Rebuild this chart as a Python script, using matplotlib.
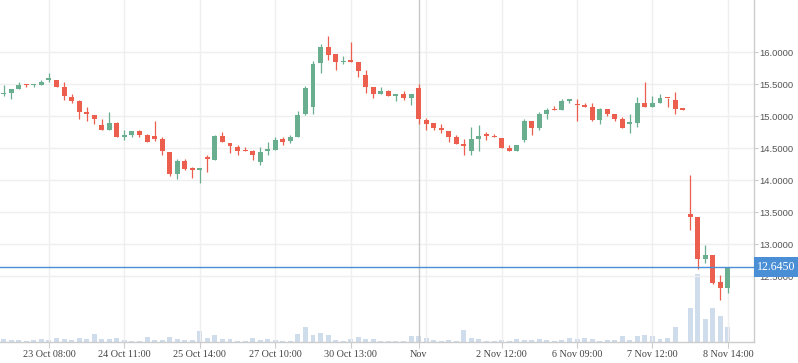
import matplotlib
matplotlib.use("Agg")
import matplotlib.pyplot as plt
from matplotlib.patches import Rectangle
from matplotlib.transforms import blended_transform_factory
import numpy as np

opens = [15.34, 15.37, 15.43, 15.49, 15.48, 15.49, 15.57, 15.57, 15.45, 15.30,
         15.24, 15.07, 15.02, 14.86, 14.79, 14.90, 14.67, 14.71, 14.77, 14.70,
         14.69, 14.65, 14.44, 14.09, 14.30, 14.17, 14.16, 14.35, 14.31, 14.69,
         14.58, 14.52, 14.46, 14.46, 14.28, 14.45, 14.47, 14.64, 14.61, 14.68,
         15.04, 15.14, 15.83, 16.08, 15.97, 15.84, 15.86, 15.85, 15.65, 15.46,
         15.35, 15.40, 15.32, 15.35, 15.29, 15.44, 14.94, 14.89, 14.81, 14.77,
         14.67, 14.57, 14.45, 14.65, 14.71, 14.69, 14.66, 14.51, 14.46, 14.63,
         14.93, 14.82, 15.04, 15.10, 15.10, 15.24, 15.18, 15.18, 15.15, 14.94,
         15.11, 15.04, 14.96, 14.88, 14.89, 15.21, 15.15, 15.20, 15.29, 15.26,
         15.11, 13.47, 13.43, 12.77, 12.83, 12.41, 12.31]
highs = [15.49, 15.43, 15.54, 15.50, 15.51, 15.57, 15.67, 15.57, 15.54, 15.35,
         15.26, 15.15, 15.02, 14.95, 15.07, 14.91, 14.78, 14.77, 14.79, 14.72,
         14.93, 14.67, 14.44, 14.33, 14.33, 14.21, 14.18, 14.39, 14.71, 14.76,
         14.58, 14.55, 14.52, 14.47, 14.52, 14.59, 14.67, 14.67, 14.70, 15.08,
         15.47, 15.86, 16.13, 16.26, 15.97, 15.94, 16.16, 15.85, 15.72, 15.46,
         15.46, 15.41, 15.35, 15.40, 15.35, 15.51, 14.97, 14.89, 14.88, 14.77,
         14.70, 14.65, 14.83, 14.86, 14.76, 14.72, 14.66, 14.55, 14.55, 14.95,
         14.93, 15.06, 15.13, 15.16, 15.27, 15.27, 15.27, 15.21, 15.21, 15.13,
         15.11, 15.04, 14.98, 15.04, 15.30, 15.53, 15.32, 15.35, 15.29, 15.38,
         15.11, 14.08, 13.43, 12.99, 12.83, 12.51, 12.645]
lows = [15.32, 15.27, 15.43, 15.46, 15.46, 15.48, 15.54, 15.45, 15.26, 15.21,
        14.96, 14.93, 14.88, 14.78, 14.79, 14.67, 14.63, 14.68, 14.67, 14.59,
        14.61, 14.40, 14.07, 14.02, 14.16, 14.04, 13.96, 14.12, 14.31, 14.59,
        14.42, 14.40, 14.45, 14.31, 14.23, 14.40, 14.47, 14.55, 14.58, 14.68,
        15.02, 15.04, 15.68, 15.88, 15.72, 15.82, 15.84, 15.61, 15.37, 15.28,
        15.34, 15.31, 15.24, 15.26, 15.17, 14.88, 14.78, 14.78, 14.74, 14.59,
        14.56, 14.40, 14.40, 14.45, 14.62, 14.67, 14.51, 14.46, 14.45, 14.60,
        14.71, 14.79, 14.96, 15.09, 15.10, 15.21, 14.92, 15.15, 14.92, 14.88,
        15.01, 14.92, 14.81, 14.73, 14.83, 15.14, 15.15, 15.20, 15.14, 15.04,
        15.10, 13.22, 12.61, 12.71, 12.38, 12.12, 12.24]
closes = [15.37, 15.43, 15.49, 15.48, 15.51, 15.53, 15.58, 15.46, 15.31, 15.24,
          15.06, 15.03, 14.96, 14.79, 14.90, 14.67, 14.71, 14.77, 14.70, 14.59,
          14.65, 14.45, 14.10, 14.30, 14.18, 14.16, 14.17, 14.33, 14.69, 14.59,
          14.53, 14.46, 14.45, 14.40, 14.44, 14.48, 14.63, 14.60, 14.68, 15.02,
          15.44, 15.82, 16.08, 15.96, 15.84, 15.86, 15.85, 15.70, 15.45, 15.35,
          15.40, 15.31, 15.35, 15.28, 15.35, 14.95, 14.87, 14.81, 14.78, 14.67,
          14.57, 14.53, 14.65, 14.69, 14.69, 14.67, 14.51, 14.46, 14.55, 14.93,
          14.82, 15.04, 15.10, 15.09, 15.24, 15.27, 15.17, 15.15, 14.94, 15.11,
          15.04, 14.96, 14.82, 14.90, 15.21, 15.15, 15.20, 15.29, 15.28, 15.11,
          15.10, 13.43, 12.77, 12.83, 12.39, 12.31, 12.645]
volumes = [2.7, 1.7, 1.7, 0.7, 1.7, 2.7, 1.7, 4, 2.7, 1.7,
           4, 2.7, 8, 2.7, 2.7, 4, 1.7, 0.7, 0.7, 5,
           1.7, 1.7, 5, 2.7, 1.7, 1.7, 11, 4, 7, 2.7,
           2.7, 0.7, 0.7, 4, 1.7, 2.7, 1.7, 0.7, 0.7, 8,
           15, 7, 9, 7, 1.7, 0.7, 2.7, 5, 2.7, 2.7,
           0.7, 0.7, 0.7, 0.7, 5.7, 5.7, 4, 1.7, 0.7, 1.7,
           0.7, 12, 4, 2.7, 0.7, 0.3, 1.7, 0.7, 2.7, 1.7,
           1.7, 2.7, 1.7, 0.7, 1.7, 4, 2.7, 4, 2.7, 0.7,
           1.7, 1.7, 5.7, 1.7, 5.7, 7, 5.7, 2.7, 4, 15,
           0, 34, 67.7, 22.7, 34, 26, 15]
tick_pos = [6, 16, 26, 36, 46, 55, 66, 76, 86, 96]
tick_labels = ["23 Oct 08:00", "24 Oct 11:00", "25 Oct 14:00", "27 Oct 10:00",
               "30 Oct 13:00", "Nov", "2 Nov 12:00", "6 Nov 09:00",
               "7 Nov 12:00", "8 Nov 14:00"]
grid_pos = [6, 16, 26, 36, 46, 56, 66, 76, 86, 96]
month_pos = 55
price_ticks = [12.5, 13.0, 13.5, 14.0, 14.5, 15.0, 15.5, 16.0]
last_price = 12.645

UP = "#6aae90"
DOWN = "#ec5f4e"
VOL = "#cfdcec"
GRID = "#efefef"
AXIS = "#cccccc"
BLUE = "#4a8fd6"

W, H = 798, 363
fig = plt.figure(figsize=(W / 100, H / 100), dpi=100)
fig.patch.set_facecolor("white")
ax_h = 341.7
ax_w = 754
ax = fig.add_axes([0, (H - ax_h) / H, ax_w / W, ax_h / H])
axv = ax.twinx()

x = np.arange(len(opens))
o = np.array(opens); c = np.array(closes)
hi = np.array(highs); lo = np.array(lows)
up = c >= o

# volume on twin axis, drawn underneath
axv.bar(x, volumes, width=0.66, color=VOL, zorder=1)
axv.set_ylim(0, ax_h)
axv.set_yticks([])
for s in axv.spines.values():
    s.set_visible(False)

ax.set_zorder(axv.get_zorder() + 1)
ax.patch.set_visible(False)

ax.set_xlim(-0.49, 99.46)
ax.set_ylim(11.473, 16.817)

# grid
for p in price_ticks:
    ax.axhline(p, color=GRID, lw=1.0, zorder=0)
for g in grid_pos:
    ax.axvline(g, color=GRID, lw=1.0, zorder=0)
ax.axvline(month_pos, color="#c8c8c8", lw=1.0, zorder=0.5)

# candles
colors = np.where(up, UP, DOWN)
ax.vlines(x, lo, hi, colors=colors, lw=0.9, zorder=2)
body_bottom = np.minimum(o, c)
body_h = np.maximum(np.abs(c - o), 0.025)
ax.bar(x, body_h, bottom=body_bottom, width=0.66, color=colors, zorder=3)

# last price line and label
ax.axhline(last_price, color=BLUE, lw=1.0, zorder=4)
tr = blended_transform_factory(ax.transAxes, ax.transData)
box_h = 20 / 64.0
rect = Rectangle((1.0, last_price - box_h / 2), 44 / ax_w, box_h, transform=tr,
                 facecolor=BLUE, edgecolor="none", clip_on=False, zorder=10)
ax.add_patch(rect)
ax.text(1.0 + 22 / ax_w, last_price, "12.6450", transform=tr, ha="center",
        va="center", color="white", fontsize=8.6, family="Liberation Serif",
        clip_on=False, zorder=11)

# axes styling
for side in ["left", "top"]:
    ax.spines[side].set_visible(False)
ax.spines["bottom"].set_color(AXIS)
ax.spines["right"].set_color(AXIS)
ax.spines["bottom"].set_linewidth(1.0)
ax.spines["right"].set_linewidth(1.0)

ax.yaxis.tick_right()
ax.set_yticks(price_ticks)
ax.set_yticklabels([f"{p:.4f}" for p in price_ticks])
ax.tick_params(axis="y", which="both", length=3, color=AXIS, pad=1,
               labelsize=6.8, labelcolor="#555555", left=False, right=True)
for lab in ax.get_yticklabels():
    lab.set_family("Liberation Sans")

ax.set_xticks(tick_pos)
ax.set_xticklabels(tick_labels)
ax.tick_params(axis="x", length=4, color=AXIS, pad=2, labelsize=7.3,
               labelcolor="#444444")
for lab in ax.get_xticklabels():
    lab.set_family("Liberation Serif")

fig.savefig("out.png", dpi=100, facecolor="white")
